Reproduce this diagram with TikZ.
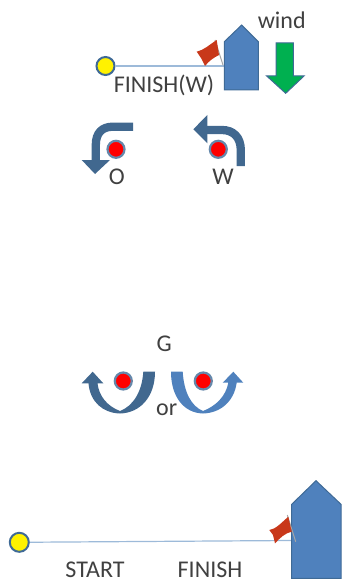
\documentclass[tikz,border=0pt]{standalone}
\usepackage{fontspec}
\setmainfont{Carlito}
\definecolor{boatblue}{HTML}{4F81BD}
\definecolor{boatedge}{HTML}{3F6A96}
\definecolor{arrowblue}{HTML}{41688F}
\definecolor{windgreen}{HTML}{00B050}
\definecolor{txt}{HTML}{404040}
\definecolor{linec}{HTML}{9DBAD9}
\definecolor{flagred}{HTML}{C8381A}
\tikzset{
  lbl/.style={inner sep=0pt,text=txt,font=\fontsize{24}{26}\selectfont},
  buoy/.style={circle,draw=boatedge,line width=2pt,fill=yellow,inner sep=0pt},
  markdot/.style={circle,draw=boatedge!80,line width=2.2pt,fill=red,inner sep=0pt,minimum size=17pt},
  boat/.style={fill=boatblue,draw=boatedge,line width=1pt,line join=miter},
  finishline/.style={draw=linec,line width=1.2pt},
  flagshape/.style={fill=flagred,draw=none},
  pole/.style={draw=gray!70,line width=1pt},
  turnhead/.style={fill=arrowblue,draw=none},
  bendshaft/.style={draw=arrowblue,line width=8.3pt}
}
\begin{document}
\begin{tikzpicture}[x=1pt,y=-1pt]
\useasboundingbox (0,0) rectangle (341,583);
% top group
\node[buoy,minimum size=18pt] (topbuoy) at (105.5,66) {};
\coordinate (topboatedge) at (224,66);
\draw[finishline] (topbuoy) -- (topboatedge);
\draw[boat] (241.7,25) -- (258.3,41.7) -- (258.3,90) -- (224.3,90) -- (224.3,41.7) -- cycle;
\draw[pole] (215,40) -- (223,65);
\fill[flagshape] (196.7,51.7) .. controls (204,50) and (209,45) .. (216.7,40) -- (219,55) .. controls (213,58) and (209,61) .. (205,66) -- (201,58) -- cycle;
\draw[fill=windgreen,draw=boatedge,line width=1pt] (276,43) -- (293.3,43) -- (293.3,76) -- (304,76) -- (285.7,93.3) -- (266.7,76) -- (276,76) -- cycle;
\node[lbl] (wind) at (281.7,20.5) {wind};
\node[lbl] (finishw) at (164,85.5) {FINISH(W)};
% O and W
\draw[bendshaft] (133,126.7) -- (113,126.7) .. controls (102,126.7) and (95.8,133) .. (95.8,145) -- (95.8,161);
\fill[turnhead] (81.7,160) -- (110,160) -- (95,174) -- cycle;
\node[markdot] (dotO) at (116,149.3) {};
\node[lbl] (labO) at (116.7,176.5) {O};
\draw[bendshaft] (240.8,166) -- (240.8,150) .. controls (240.8,137) and (233,130) .. (222,130) -- (206,130);
\fill[turnhead] (193.3,129.3) -- (207.3,115) -- (207.3,143.3) -- cycle;
\node[markdot] (dotW) at (218.3,149.3) {};
\node[lbl] (labW) at (223,176.5) {W};
% G group
\node[lbl] (labG) at (164.3,344) {G};
\node[lbl] (labor) at (166.7,410) {or};
\node[markdot] (dotL) at (123.3,381) {};
\node[markdot] (dotR) at (203.3,381) {};
\fill[turnhead] (155,371.7) -- (143.3,371.7) .. controls (142,392) and (133,406) .. (120,411)
  .. controls (107,406) and (99,396) .. (97.5,383.3) -- (103.3,383.3) -- (92.7,371.7) -- (81.7,383.3) -- (88.5,383.3)
  .. controls (90,402) and (103,413) .. (120,413.5) .. controls (140,413) and (155,397) .. (155,371.7) -- cycle;
\fill[boatblue] (171,371.7) -- (182.7,371.7) .. controls (184,392) and (191,406) .. (203,411)
  .. controls (216,406) and (226,396) .. (228.3,382.7) -- (222.7,382.7) -- (233.3,371.7) -- (243.3,382.7) -- (236.7,382.7)
  .. controls (234,402) and (220,413) .. (203,413.5) .. controls (184,413) and (171,397) .. (171,371.7) -- cycle;
% bottom group
\node[buoy,minimum size=19pt] (botbuoy) at (19.3,542.3) {};
\coordinate (botboatedge) at (292,540.5);
\draw[finishline] (botbuoy) -- (botboatedge);
\draw[boat] (316,480.7) -- (341,504.3) -- (341,578.3) -- (291.7,578.3) -- (291.7,504.3) -- cycle;
\draw[pole] (287.3,515) -- (295.7,541.7);
\fill[flagshape] (269.3,530) .. controls (276,529) and (281,523) .. (288.3,516.7) -- (291.7,531.7) .. controls (285,533) and (280,538) .. (275,543.3) -- (273,535) -- cycle;
\node[lbl] (start) at (95,570) {START};
\node[lbl] (finish) at (210,570) {FINISH};
\end{tikzpicture}
\end{document}
